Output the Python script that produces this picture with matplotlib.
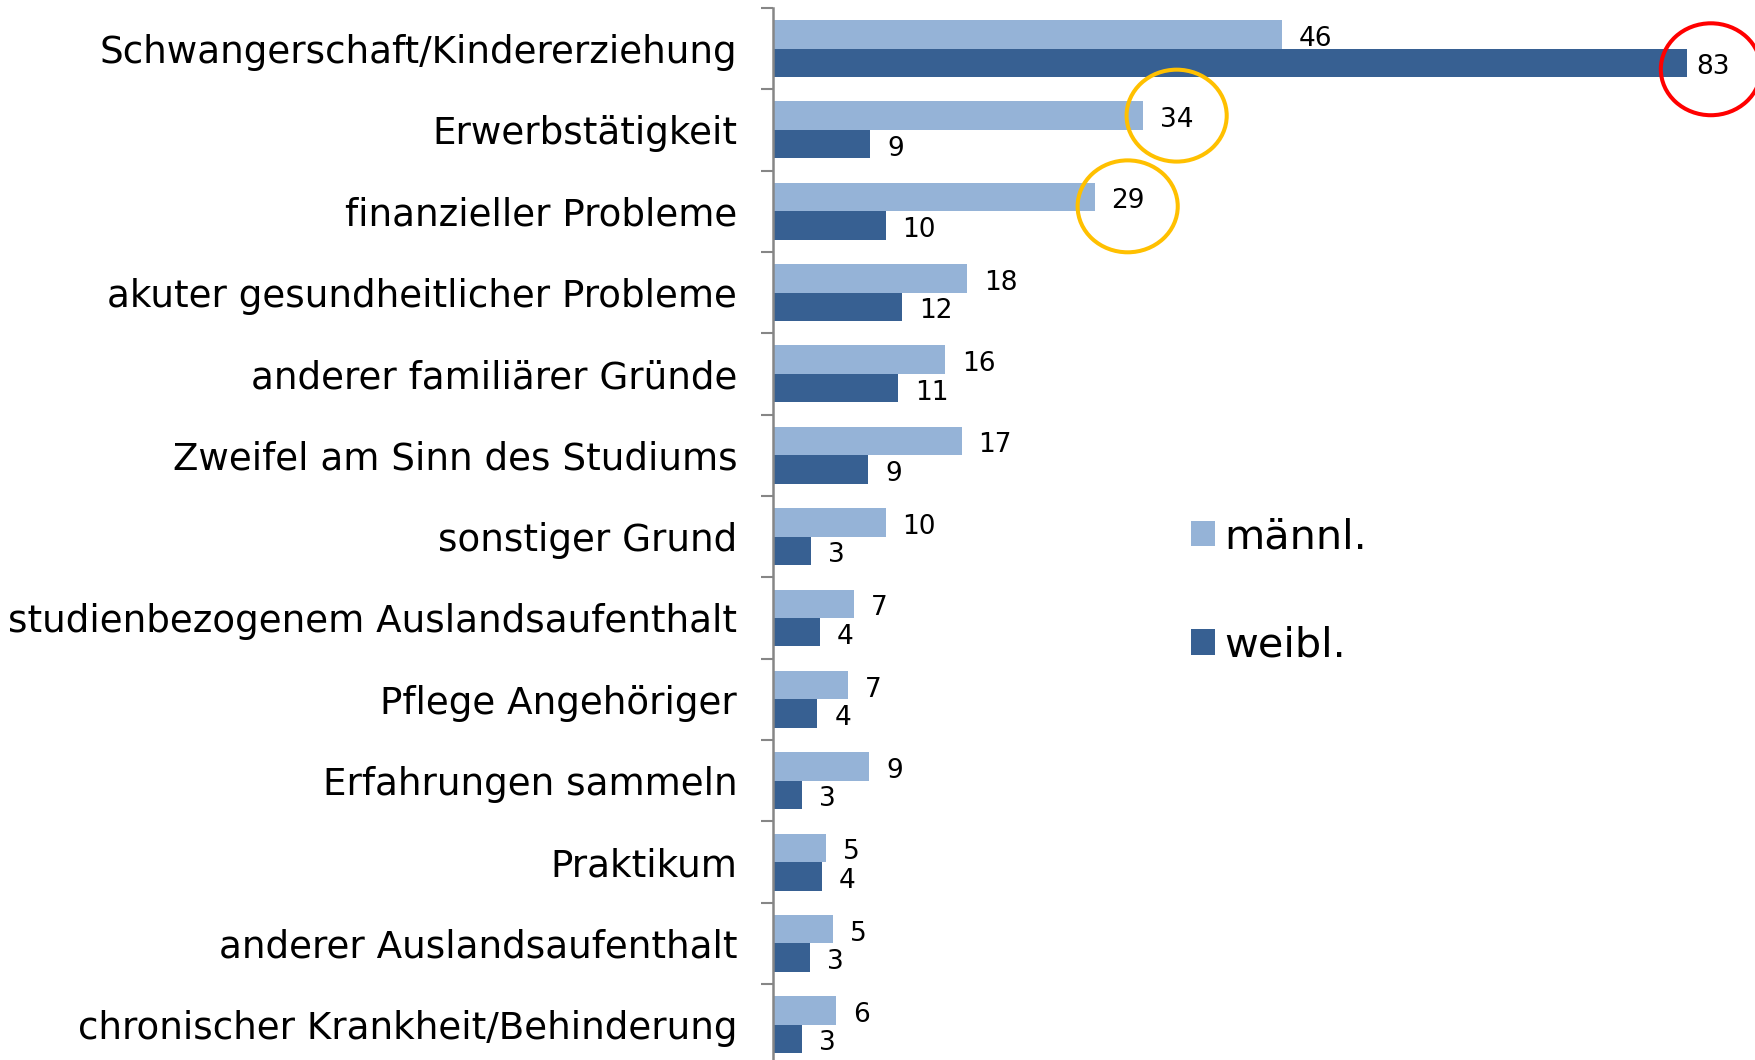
import numpy as np
import matplotlib
matplotlib.use('Agg')
import matplotlib.pyplot as plt
from matplotlib.patches import Ellipse, Patch

plt.rcParams['font.family'] = ['DejaVu Sans']

gruende = ['Schwangerschaft/Kindererziehung', 'Erwerbstätigkeit', 'finanzieller Probleme',
           'akuter gesundheitlicher Probleme', 'anderer familiärer Gründe',
           'Zweifel am Sinn des Studiums', 'sonstiger Grund',
           'studienbezogenem Auslandsaufenthalt', 'Pflege Angehöriger',
           'Erfahrungen sammeln', 'Praktikum', 'anderer Auslandsaufenthalt',
           'chronischer Krankheit/Behinderung']
# bar lengths, labels show them rounded
maennl = [46.2, 33.6, 29.2, 17.6, 15.6, 17.1, 10.2, 7.3, 6.8, 8.7, 4.8, 5.4, 5.7]
weibl = [83.0, 8.8, 10.2, 11.7, 11.3, 8.6, 3.4, 4.2, 4.0, 2.6, 4.4, 3.3, 2.6]

# highlighted labels: (row, series, colour, shift right, shift down)
markierungen = [(0, 'weibl', '#FF0000', 2.2, 0.08),
                (1, 'maennl', '#FFC000', 3.05, 0.0),
                (2, 'maennl', '#FFC000', 3.0, 0.115)]

hell = '#95B3D7'
dunkel = '#376092'

fig = plt.figure(figsize=(17.56, 10.60), dpi=100)
ax = fig.add_axes([0.4404, -0.0051, 0.5596, 0.9977])

y = np.arange(len(gruende))
h = 0.35
ax.barh(y - h / 2, maennl, height=h, color=hell, label='männl.')
ax.barh(y + h / 2, weibl, height=h, color=dunkel, label='weibl.')

for i in range(len(gruende)):
    ax.annotate(f'{maennl[i]:.0f}', (maennl[i], y[i] - h / 2), xytext=(12.2, -3.2),
                textcoords='offset points', va='center', ha='left', fontsize=19)
    # the label at the right edge sits a bit closer to its bar
    dx = 7 if weibl[i] > 80 else 12.2
    ax.annotate(f'{weibl[i]:.0f}', (weibl[i], y[i] + h / 2), xytext=(dx, -3.2),
                textcoords='offset points', va='center', ha='left', fontsize=19)

for row, serie, farbe, dx, dy in markierungen:
    if serie == 'weibl':
        cx, cy = weibl[row], y[row] + h / 2
    else:
        cx, cy = maennl[row], y[row] - h / 2
    ax.add_patch(Ellipse((cx + dx, cy + dy), 9.1, 1.13, fill=False, edgecolor=farbe,
                         linewidth=2.9, clip_on=False, zorder=5))

ax.set_xlim(0, 89.3)
ax.set_ylim(len(gruende) - 0.5, -0.5)
ax.set_xticks([])
ax.set_yticks(y)
ax.set_yticklabels(gruende, fontsize=26.8)
ax.set_yticks(np.arange(len(gruende) + 1) - 0.5, minor=True)
ax.tick_params(axis='y', which='major', length=0, pad=26)
ax.tick_params(axis='y', which='minor', length=8.6, width=1.5, color='#868686')
for s in ['top', 'right', 'bottom']:
    ax.spines[s].set_visible(False)
ax.spines['left'].set_color('#868686')
ax.spines['left'].set_linewidth(1.8)

handles = [Patch(facecolor=hell, label='männl.'), Patch(facecolor=dunkel, label='weibl.')]
fig.legend(handles=handles, loc='center left', bbox_to_anchor=(0.6782, 0.4422),
           frameon=False, fontsize=29.8, handlelength=0.58, handleheight=0.58,
           handletextpad=0.22, labelspacing=1.65, borderpad=0, borderaxespad=0)

fig.savefig('out.png', dpi=100)
